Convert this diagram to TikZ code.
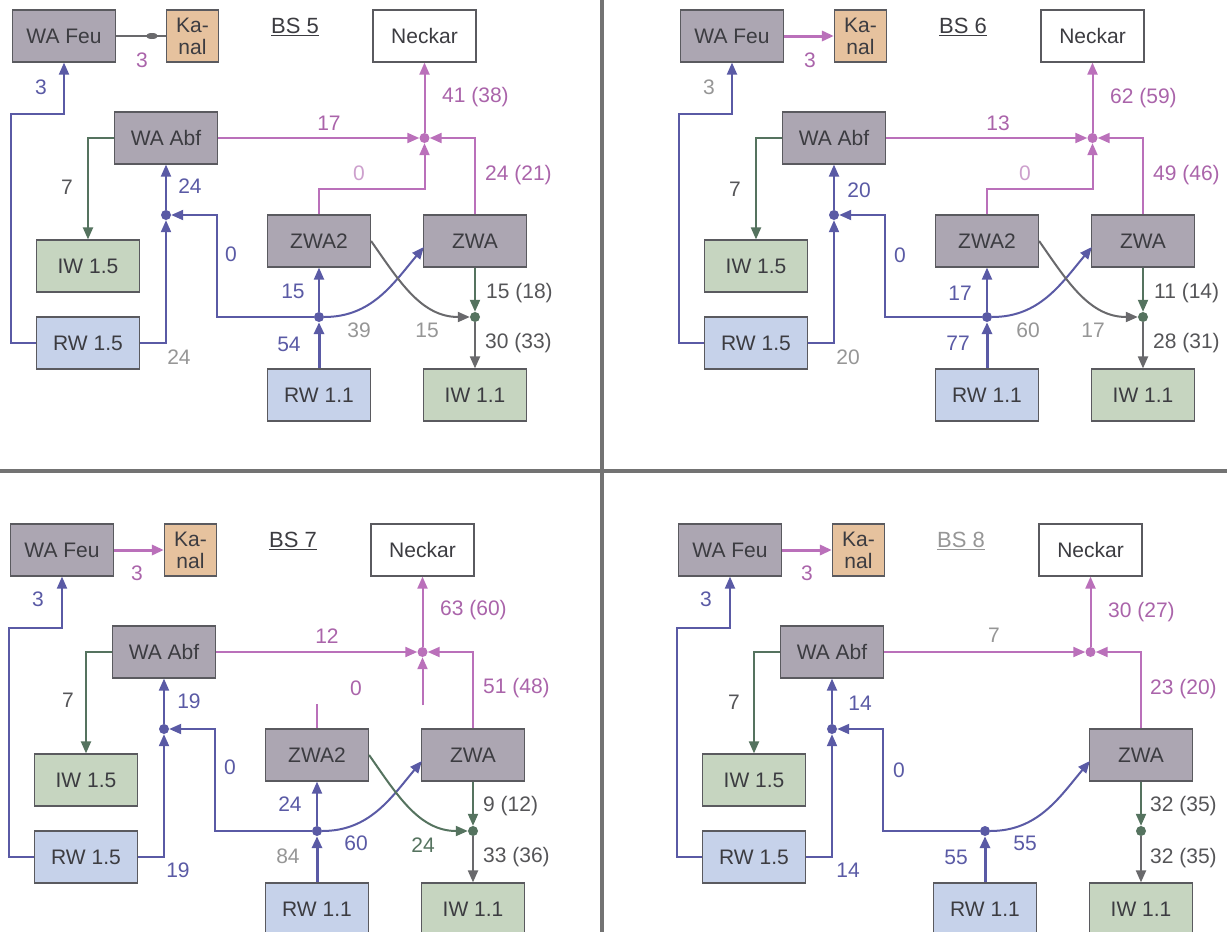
\documentclass[tikz,border=0pt]{standalone}
\usepackage{fontspec}
\setmainfont{Liberation Sans}
\usetikzlibrary{arrows.meta,shapes.geometric}
\definecolor{boxg}{RGB}{172,166,178}
\definecolor{bordc}{RGB}{90,90,95}
\definecolor{kanalc}{RGB}{230,194,158}
\definecolor{iwc}{RGB}{198,213,192}
\definecolor{rwc}{RGB}{198,210,234}
\definecolor{txtc}{RGB}{60,60,65}
\definecolor{bluec}{RGB}{90,90,165}
\definecolor{pinkc}{RGB}{186,112,186}
\definecolor{pinkl}{RGB}{170,100,170}
\definecolor{pinkf}{RGB}{205,160,205}
\definecolor{greenc}{RGB}{85,115,95}
\definecolor{grayc}{RGB}{105,105,108}
\definecolor{grayl}{RGB}{150,150,150}
\definecolor{labg}{RGB}{85,85,88}
\definecolor{divc}{RGB}{115,115,115}
\newcounter{lbc}
\newcommand\lb[4]{\stepcounter{lbc}\node[numlab,text=#3] (lb\thelbc) at (#1,#2) {#4};}
\newcommand\lbw[4]{\stepcounter{lbc}\node[numlab,text=#3,anchor=west] (lb\thelbc) at (#1,#2) {#4};}
\tikzset{
  bx/.style={draw=bordc, line width=1.2pt, minimum width=103pt, minimum height=52pt,
    inner sep=0pt, text=txtc, align=center, font=\fontsize{21}{22}\selectfont},
  graybox/.style={bx, fill=boxg},
  kanalbox/.style={bx, fill=kanalc, minimum width=52pt},
  neckbox/.style={bx, fill=white},
  iwbox/.style={bx, fill=iwc},
  rwbox/.style={bx, fill=rwc},
  titlestyle/.style={inner sep=0pt, font=\fontsize{22}{24}\selectfont},
  numlab/.style={inner sep=0pt, font=\fontsize{21}{22}\selectfont},
  jdot/.style={circle, minimum size=10pt, inner sep=0pt},
  jblue/.style={jdot, fill=bluec},
  jpink/.style={jdot, fill=pinkc},
  jgreen/.style={jdot, fill=greenc},
  arr/.style={-{Triangle[length=12pt,width=10pt]}},
  bl/.style={draw=bluec, line width=2pt, arr},
  pk/.style={draw=pinkc, line width=2pt, arr},
  gr/.style={draw=greenc, line width=2pt, arr},
  gy/.style={draw=grayc, line width=2pt, arr},
}
% boxes common to every quadrant
\newcommand\quadboxes[3]{%
  \node[graybox] (#1feu) at (64,36) {WA Feu};
  \node[kanalbox] (#1kanal) at (192.5,36) {Ka-\\nal};
  \node[titlestyle, text=#3] (#1title) at (295,27) {\underline{#2}};
  \node[neckbox] (#1neck) at (424.5,36) {Neckar};
  \node[graybox] (#1abf) at (166,138) {WA Abf};
  \node[iwbox] (#1iw15) at (88,266) {IW 1.5};
  \node[rwbox] (#1rw15) at (88,343) {RW 1.5};
  \node[graybox] (#1zwa) at (475,241) {ZWA};
  \node[rwbox] (#1rw11) at (319,395) {RW 1.1};
  \node[iwbox] (#1iw11) at (475,395) {IW 1.1};
  \node[jblue] (#1Jabf) at (166,215) {};
  \node[jblue] (#1Jrw) at (319,317) {};
  \node[jgreen] (#1Jiw) at (475,317) {};
  \node[jpink] (#1Jneck) at (424.5,138) {};
}
% connectors common to every quadrant
\newcommand\quadlinks[1]{%
  \draw[bl] (#1rw15.west) -- ++(-25,0) |- ([yshift=-51pt]#1feu.south) -- (#1feu.south);
  \draw[gr] (#1abf.west) -| (#1iw15.north);
  \draw[bl] (#1rw15.east) -| (#1Jabf);
  \draw[bl] (#1Jabf) -- (#1abf.south);
  \draw[bl] (#1Jrw) -- ++(-102,0) |- (#1Jabf);
  \draw[bl, line width=3pt] (#1rw11.north) -- (#1Jrw);
  \draw[bl] (#1Jrw) to[out=0,in=230] ([xshift=1pt,yshift=-6pt]#1zwa.west);
  \draw[gr] (#1zwa.south) -- (#1Jiw);
  \draw[gy] (#1Jiw) -- (#1iw11.north);
  \draw[pk] (#1abf.east) -- (#1Jneck);
  \draw[pk] (#1zwa.north) |- (#1Jneck);
  \draw[pk] (#1Jneck) -- (#1neck.south);
}
\begin{document}
\begin{tikzpicture}[x=1pt,y=-1pt]
\useasboundingbox (0,0) rectangle (1227,932);
\clip (0,0) rectangle (1227,932);
\fill[white] (0,0) rectangle (1227,932);

% ---------------- BS 5 ----------------
\begin{scope}
  \quadboxes{a}{BS 5}{txtc}
  \node[graybox] (azwa2) at (319,241) {ZWA2};
  \quadlinks{a}
  \draw[draw=grayc, line width=2pt] (afeu.east) -- (akanal.west)
    node[pos=0.72, ellipse, fill=grayc, minimum width=12pt, minimum height=6pt, inner sep=0pt] (ablob) {};
  \draw[bl] (aJrw) -- (azwa2.south);
  \draw[gy] (azwa2.east) to[out=-55,in=180] (aJiw);
  \draw[pk] (azwa2.north) -- ++(0,-25) -| (aJneck);
  \lb{41}{87}{bluec}{3}
  \lb{142}{60}{pinkl}{3}
  \lb{329}{123}{pinkl}{17}
  \lbw{442}{97}{pinkl}{41 (38)}
  \lb{359}{173}{pinkf}{0}
  \lbw{485}{175}{pinkl}{24 (21)}
  \lb{67}{187}{labg}{7}
  \lb{190}{186}{bluec}{24}
  \lb{231}{254}{bluec}{0}
  \lb{293}{291}{bluec}{15}
  \lbw{486}{293}{labg}{15 (18)}
  \lb{289}{344}{bluec}{54}
  \lb{359}{330}{grayl}{39}
  \lb{427}{330}{grayl}{15}
  \lbw{485}{343}{labg}{30 (33)}
  \lb{179}{357}{grayl}{24}
\end{scope}

% ---------------- BS 6 ----------------
\begin{scope}[shift={(668,0)}]
  \quadboxes{b}{BS 6}{txtc}
  \node[graybox] (bzwa2) at (319,241) {ZWA2};
  \quadlinks{b}
  \draw[pk, line width=3pt] (bfeu.east) -- (bkanal.west);
  \draw[bl] (bJrw) -- (bzwa2.south);
  \draw[gy] (bzwa2.east) to[out=-55,in=180] (bJiw);
  \draw[pk] (bzwa2.north) -- ++(0,-25) -| (bJneck);
  \lb{41}{87}{grayl}{3}
  \lb{142}{60}{pinkl}{3}
  \lb{330}{123}{pinkl}{13}
  \lbw{442}{98}{pinkl}{62 (59)}
  \lb{357}{173}{pinkf}{0}
  \lbw{485}{175}{pinkl}{49 (46)}
  \lb{67}{189}{labg}{7}
  \lb{191}{190}{bluec}{20}
  \lb{232}{255}{bluec}{0}
  \lb{292}{293}{bluec}{17}
  \lbw{486}{293}{labg}{11 (14)}
  \lb{290}{343}{bluec}{77}
  \lb{360}{330}{grayl}{60}
  \lb{425}{330}{grayl}{17}
  \lbw{485}{343}{labg}{28 (31)}
  \lb{180}{357}{grayl}{20}
\end{scope}

% ---------------- BS 7 ----------------
\begin{scope}[shift={(-2,514)}]
  \quadboxes{c}{BS 7}{txtc}
  \node[graybox] (czwa2) at (319,241) {ZWA2};
  \quadlinks{c}
  \draw[pk, line width=3pt] (cfeu.east) -- (ckanal.west);
  \draw[bl] (cJrw) -- (czwa2.south);
  \draw[gr] (czwa2.east) to[out=-55,in=180] (cJiw);
  \draw[draw=pinkc, line width=2pt] (czwa2.north) -- ++(0,-24);
  \draw[pk] ([yshift=-53pt]cJneck.center) -- (cJneck);
  \lb{40}{85}{bluec}{3}
  \lb{139}{59}{pinkl}{3}
  \lb{329}{122}{pinkl}{12}
  \lbw{442}{96}{pinkl}{63 (60)}
  \lb{358}{174}{pinkl}{0}
  \lbw{485}{174}{pinkl}{51 (48)}
  \lb{70}{186}{labg}{7}
  \lb{191}{187}{bluec}{19}
  \lb{232}{253}{bluec}{0}
  \lb{292}{290}{bluec}{24}
  \lbw{485}{292}{labg}{9 (12)}
  \lb{358}{329}{bluec}{60}
  \lb{425}{331}{greenc}{24}
  \lbw{485}{343}{labg}{33 (36)}
  \lb{290}{342}{grayl}{84}
  \lb{180}{356}{bluec}{19}
\end{scope}

% ---------------- BS 8 ----------------
\begin{scope}[shift={(666,514)}]
  \quadboxes{d}{BS 8}{grayl}
  \quadlinks{d}
  \draw[pk, line width=3pt] (dfeu.east) -- (dkanal.west);
  \lb{40}{85}{bluec}{3}
  \lb{141}{59}{pinkl}{3}
  \lb{328}{121}{grayl}{7}
  \lbw{442}{98}{pinkl}{30 (27)}
  \lbw{484}{175}{pinkl}{23 (20)}
  \lb{68}{188}{labg}{7}
  \lb{194}{189}{bluec}{14}
  \lb{233}{256}{bluec}{0}
  \lb{290}{343}{bluec}{55}
  \lb{359}{329}{bluec}{55}
  \lb{182}{356}{bluec}{14}
  \lbw{484}{292}{labg}{32 (35)}
  \lbw{484}{344}{labg}{32 (35)}
\end{scope}

% dividers
\coordinate (vtop) at (602,0);
\coordinate (vbot) at (602,932);
\coordinate (hl) at (0,471);
\coordinate (hr) at (1227,471);
\draw[divc, line width=4pt] (vtop) -- (vbot);
\draw[divc, line width=4pt] (hl) -- (hr);
\end{tikzpicture}
\end{document}
